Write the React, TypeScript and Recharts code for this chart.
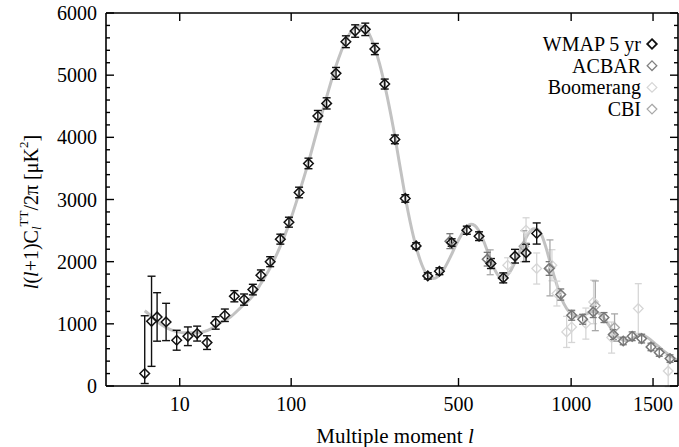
import React from 'react';
import { ComposedChart, Line, Scatter, XAxis, YAxis, ErrorBar } from 'recharts';

// ---------- data ----------
const xTickLabels = [10, 100, 500, 1000, 1500];
const yTicks = [0, 200, 400, 600, 800, 1000, 1200, 1400, 1600, 1800, 2000, 2200, 2400, 2600, 2800, 3000,
  3200, 3400, 3600, 3800, 4000, 4200, 4400, 4600, 4800, 5000, 5200, 5400, 5600, 5800, 6000];

const theoryL = [2, 3, 4, 5, 7, 9, 12, 17, 22, 26, 30, 37, 45, 56, 64, 74, 86, 97, 111, 125, 140, 155, 172, 191,
  205, 220, 235, 250, 265, 280, 300, 320, 340, 360, 380, 400, 415, 430, 450, 470, 490, 510, 530, 545, 560, 575,
  595, 615, 635, 655, 670, 690, 710, 730, 750, 770, 790, 810, 830, 850, 870, 890, 910, 930, 950, 975, 1000,
  1030, 1060, 1090, 1120, 1150, 1180, 1210, 1240, 1270, 1300, 1330, 1360, 1390, 1420, 1450, 1480, 1520, 1560,
  1600, 1640, 1677];
const theoryV = [1210, 1120, 1040, 980, 910, 875, 855, 855, 890, 950, 1020, 1111, 1260, 1450, 1650, 1900, 2250,
  2600, 3100, 3600, 4150, 4650, 5150, 5560, 5730, 5790, 5730, 5510, 5190, 4780, 4150, 3450, 2800, 2300, 1950,
  1760, 1730, 1760, 1880, 2060, 2260, 2430, 2560, 2600, 2580, 2500, 2320, 2100, 1900, 1770, 1740, 1780, 1880,
  2030, 2200, 2350, 2470, 2530, 2520, 2420, 2230, 2000, 1780, 1580, 1400, 1250, 1160, 1120, 1130, 1170, 1200,
  1180, 1110, 1000, 880, 790, 740, 730, 760, 800, 815, 800, 750, 670, 590, 520, 460, 410];

const wmapL = [2, 3, 4, 6, 9, 13, 17, 22, 27, 33, 40, 48, 56, 64, 74, 86, 97, 111, 125, 140, 155, 172, 191, 210,
  232, 254, 278, 304, 332, 363, 398, 435, 476, 530, 576, 623, 674, 725, 775, 825];
const wmapV = [200, 1041, 1111, 1030, 736, 800, 843, 698, 1014, 1138, 1444, 1390, 1551, 1782, 2000, 2362, 2635,
  3113, 3580, 4342, 4546, 5029, 5538, 5710, 5737, 5420, 4857, 3967, 3017, 2254, 1771, 1846, 2308, 2506, 2410,
  1970, 1739, 2088, 2141, 2453];
const wmapLo = [160, 725, 390, 300, 160, 150, 120, 110, 100, 100, 90, 90, 85, 85, 80, 80, 80, 85, 85, 90, 90, 95,
  95, 100, 100, 90, 80, 70, 60, 50, 50, 55, 60, 65, 70, 80, 80, 110, 140, 170];
const wmapHi = [930, 725, 390, 300, 160, 150, 120, 110, 100, 100, 90, 90, 85, 85, 80, 80, 80, 85, 85, 90, 90, 95,
  95, 100, 100, 90, 80, 70, 60, 50, 50, 55, 60, 65, 70, 80, 80, 110, 140, 170];

const acbarL = [470, 608, 886, 945, 1003, 1063, 1123, 1186, 1242, 1304, 1361, 1423, 1486, 1543, 1619];
const acbarV = [2330, 2040, 1890, 1471, 1138, 1073, 1191, 1101, 827, 724, 800, 763, 628, 538, 441];
const acbarE = [120, 110, 110, 90, 80, 80, 90, 80, 80, 60, 70, 70, 60, 60, 60];

const boomL = [693, 775, 825, 900, 925, 976, 1003, 1081, 1125, 1232, 1401, 1606];
const boomV = [1943, 2506, 1890, 1943, 1487, 870, 950, 1004, 1352, 779, 1246, 241];
const boomE = [120, 200, 250, 250, 200, 250, 250, 250, 350, 250, 400, 250];

const cbiL = [620, 765, 890, 1135, 1250];
const cbiV = [1990, 2249, 1900, 1290, 940];
const cbiE = [200, 250, 450, 400, 220];

const legendNames = ['WMAP 5 yr', 'ACBAR', 'Boomerang', 'CBI'];
const legendColors = ['#111111', '#808080', '#d6d6d6', '#a8a8a8'];

// ---------- helpers ----------
const P = 0.4;
const toX = (l: number) => Math.pow(l, P);
const fromX = (x: number) => Math.pow(x, 1 / P);
const X_MAX_L = 1677;

const theory = theoryL.map((l, i) => ({ x: toX(l), v: theoryV[i] }));
const wmap = wmapL.map((l, i) => ({ x: toX(l), v: wmapV[i], e: [wmapLo[i], wmapHi[i]] }));
const acbar = acbarL.map((l, i) => ({ x: toX(l), v: acbarV[i], e: acbarE[i] }));
const boom = boomL.map((l, i) => ({ x: toX(l), v: boomV[i], e: boomE[i] }));
const cbi = cbiL.map((l, i) => ({ x: toX(l), v: cbiV[i], e: cbiE[i] }));
const xTicks = xTickLabels.map(toX);

const FONT = "'Liberation Serif', 'Times New Roman', serif";
const FS = 20;
const R = 4.8;

const diamond = (color: string, sw: number) => (props: any) => {
  const { cx, cy } = props;
  if (cx == null || cy == null) return <g />;
  return (
    <path d={`M${cx},${cy - R}L${cx + R},${cy}L${cx},${cy + R}L${cx - R},${cy}Z`}
      fill="none" stroke={color} strokeWidth={sw} />
  );
};

const BottomTick = (props: any) => {
  const { x, y, payload } = props;
  return (
    <g>
      <line x1={x} y1={y} x2={x} y2={y - 8} stroke="#000" strokeWidth={1.4} />
      <text x={x} y={y + 25} textAnchor="middle" fontFamily={FONT} fontSize={FS} fill="#000">
        {Math.round(fromX(payload.value))}
      </text>
    </g>
  );
};
const TopTick = (props: any) => {
  const { x, y } = props;
  return <line x1={x} y1={y} x2={x} y2={y + 8} stroke="#000" strokeWidth={1.4} />;
};
const LeftTick = (props: any) => {
  const { x, y, payload } = props;
  const major = payload.value % 1000 === 0;
  return (
    <g>
      <line x1={x} y1={y} x2={x + (major ? 8 : 4)} y2={y} stroke="#000" strokeWidth={1.4} />
      {major && (
        <text x={x - 9} y={y + 7} textAnchor="end" fontFamily={FONT} fontSize={FS} fill="#000">
          {payload.value}
        </text>
      )}
    </g>
  );
};
const RightTick = (props: any) => {
  const { x, y, payload } = props;
  const major = payload.value % 1000 === 0;
  return <line x1={x} y1={y} x2={x - (major ? 8 : 4)} y2={y} stroke="#000" strokeWidth={1.4} />;
};

export default function App() {
  const axisLine = { stroke: '#000', strokeWidth: 1.6 };
  return (
    <div style={{ position: 'absolute', left: 0, top: 0, width: 679, height: 447, background: '#fff' }}>
      <ComposedChart width={679} height={447} data={theory}
        margin={{ top: 12, right: 0, bottom: 0, left: 0 }}>
        <XAxis xAxisId={0} dataKey="x" type="number" domain={[0, toX(X_MAX_L)]} ticks={xTicks}
          interval={0} height={61} tickSize={0} tickMargin={0} tickLine={false}
          axisLine={axisLine} tick={<BottomTick />} allowDataOverflow />
        <XAxis xAxisId="top" orientation="top" dataKey="x" type="number" domain={[0, toX(X_MAX_L)]}
          ticks={xTicks} interval={0} height={1} tickSize={0} tickMargin={0} tickLine={false}
          axisLine={axisLine} tick={<TopTick />} allowDataOverflow />
        <YAxis yAxisId={0} dataKey="v" type="number" domain={[0, 6000]} ticks={yTicks} interval={0}
          width={106} tickSize={0} tickMargin={0} tickLine={false} axisLine={axisLine}
          tick={<LeftTick />} allowDataOverflow />
        <YAxis yAxisId="right" orientation="right" dataKey="v" type="number" domain={[0, 6000]}
          ticks={yTicks} interval={0} width={1} tickSize={0} tickMargin={0} tickLine={false}
          axisLine={axisLine} tick={<RightTick />} allowDataOverflow />
        <Line dataKey="v" type="monotone" dot={false} stroke="#c2c2c2" strokeWidth={3}
          isAnimationActive={false} />
        <Scatter name="Boomerang" data={boom} dataKey="v" shape={diamond(legendColors[2], 1.3)}
          isAnimationActive={false}>
          <ErrorBar dataKey="e" direction="y" width={3.5} stroke={legendColors[2]} strokeWidth={1.3} />
        </Scatter>
        <Scatter name="CBI" data={cbi} dataKey="v" shape={diamond(legendColors[3], 1.3)}
          isAnimationActive={false}>
          <ErrorBar dataKey="e" direction="y" width={3.5} stroke={legendColors[3]} strokeWidth={1.3} />
        </Scatter>
        <Scatter name="ACBAR" data={acbar} dataKey="v" shape={diamond('#777777', 1.5)}
          isAnimationActive={false}>
          <ErrorBar dataKey="e" direction="y" width={3.5} stroke="#777777" strokeWidth={1.3} />
        </Scatter>
        <Scatter name="WMAP 5 yr" data={wmap} dataKey="v" shape={diamond('#111111', 1.5)}
          isAnimationActive={false}>
          <ErrorBar dataKey="e" direction="y" width={4} stroke="#111111" strokeWidth={1.4} />
        </Scatter>
      </ComposedChart>
      <svg width={679} height={447} style={{ position: 'absolute', left: 0, top: 0, pointerEvents: 'none' }}>
        {legendNames.map((n, i) => {
          const cy = 44 + i * 21.7;
          const cx = 652;
          return (
            <g key={n}>
              <text x={641} y={cy + 7} textAnchor="end" fontFamily={FONT} fontSize={FS} fill="#000">{n}</text>
              <path d={`M${cx},${cy - R}L${cx + R},${cy}L${cx},${cy + R}L${cx - R},${cy}Z`} fill="none"
                stroke={legendColors[i]} strokeWidth={i === 0 ? 1.8 : 1.3} />
            </g>
          );
        })}
        <text x={395} y={443} textAnchor="middle" fontFamily={FONT} fontSize={21} fill="#000">
          Multiple moment <tspan fontStyle="italic">l</tspan>
        </text>
        <text x={31} y={212} transform="rotate(-90, 31, 212)" textAnchor="middle" fontFamily={FONT}
          fontSize={FS} fill="#000" dominantBaseline="central">
          <tspan fontStyle="italic">l</tspan>(<tspan fontStyle="italic">l</tspan>+1)C<tspan fontStyle="italic"
            fontSize={13} dy={5}>l</tspan><tspan fontSize={13} dy={-13}>TT</tspan><tspan dy={8}>/2π [μK</tspan><tspan
            fontSize={13} dy={-8}>2</tspan><tspan dy={8}>]</tspan>
        </text>
      </svg>
    </div>
  );
}
